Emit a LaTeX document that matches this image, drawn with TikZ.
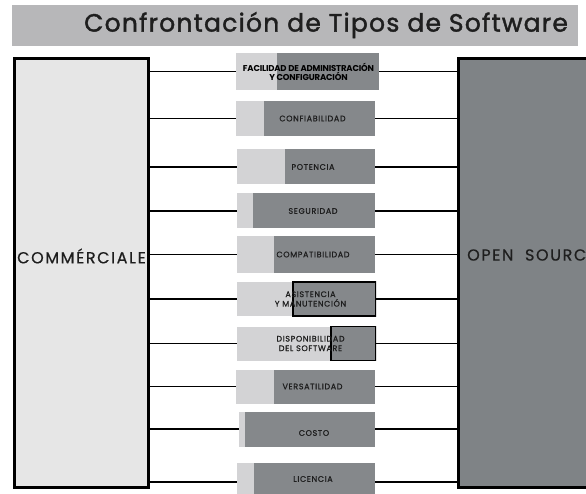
\documentclass[tikz,border=0pt]{standalone}
\usepackage{fontspec}
\setmainfont{Poppins}
\definecolor{titlebg}{HTML}{B7B7B9}
\definecolor{leftbg}{HTML}{E6E6E6}
\definecolor{rightbg}{HTML}{7F8386}
\definecolor{midlight}{HTML}{D3D3D5}
\definecolor{middark}{HTML}{85888B}
\definecolor{txt}{HTML}{1E1E1E}
\tikzset{
  bigbox/.style={draw=black, line width=3pt, rectangle, inner sep=0pt},
  midbox/.style={rectangle, fill=middark, inner sep=0pt, minimum width=139pt, minimum height=35pt,
    path picture={\fill[midlight] (path picture bounding box.south west) rectangle ([xshift=#1]path picture bounding box.north west);}},
  midboxo/.style={rectangle, fill=middark, inner sep=0pt, minimum width=139pt, minimum height=35pt,
    path picture={\fill[midlight] (path picture bounding box.south west) rectangle ([xshift=#1]path picture bounding box.north west);
      \draw[black, line width=1.6pt] ([xshift=#1]path picture bounding box.south west) rectangle (path picture bounding box.north east);}},
  lab/.style={xshift=7pt, inner sep=0pt, font=\fontsize{8}{9.5}\selectfont\addfontfeatures{LetterSpace=8,FakeBold=0.8}, text=txt, align=center},
  conn/.style={draw=black, line width=1.2pt}
}
\begin{document}
\begin{tikzpicture}[x=1pt,y=-1pt]
\useasboundingbox (0,0) rectangle (586,494);
\clip (0,0) rectangle (586,494);
\fill[white] (0,0) rectangle (586,494);
% title
\node[rectangle, fill=titlebg, minimum width=566pt, minimum height=41pt, inner sep=0pt] (title) at (295,25.5) {};
\node[font=\fontsize{25}{28}\selectfont\addfontfeatures{LetterSpace=5,FakeBold=1.6}, text=txt] (titlet) at (326,25) {Confrontación de Tipos de Software};
% side boxes
\node[bigbox, fill=leftbg, minimum width=134pt, minimum height=428pt] (L) at (81,273) {};
\node[font=\fontsize{16}{18}\selectfont\addfontfeatures{LetterSpace=10,FakeBold=0.6}, text=txt, anchor=west, inner sep=0pt] (Lt) at (17,256) {COMMÉRCIALE};
\node[bigbox, fill=rightbg, minimum width=200pt, minimum height=428pt] (R) at (558.5,273) {};
\node[font=\fontsize{16}{18}\selectfont\addfontfeatures{LetterSpace=10,FakeBold=0.6}, text=txt, anchor=west, inner sep=0pt] (Rt) at (467,255) {OPEN\ \ SOURCE};
% middle boxes
\node[midbox=41pt, minimum width=143pt, minimum height=37pt,
  label={[lab, xshift=-6pt, font=\fontsize{8.5}{9}\selectfont\bfseries\addfontfeatures{LetterSpace=-2}, text=black]center:FACILIDAD DE ADMINISTRACIÓN\\Y CONFIGURACIÓN}] (m1) at (307.5,71.5) {};
\node[midbox=28pt, label={[lab]center:CONFIABILIDAD}] (m2) at (305.5,118.5) {};
\node[midbox=48pt, minimum width=138pt, label={[lab]center:POTENCIA}] (m3) at (306,167) {};
\node[midbox=16pt, minimum width=138pt, label={[lab]center:SEGURIDAD}] (m4) at (306,211) {};
\node[midbox=37pt, minimum width=138pt, minimum height=37pt, label={[lab]center:COMPATIBILIDAD}] (m5) at (306,254.5) {};
\node[midboxo=56pt, minimum height=34pt, label={[lab, xshift=-3pt]center:ASISTENCIA\\Y MANUTENCIÓN}] (m6) at (306.5,299) {};
\node[midboxo=94pt, minimum height=34pt, label={[lab, xshift=-3pt]center:DISPONIBILIDAD\\DEL SOFTWARE}] (m7) at (306.5,343.5) {};
\node[midbox=38pt, minimum height=34pt, label={[lab]center:VERSATILIDAD}] (m8) at (305.5,386.5) {};
\node[midbox=6pt, minimum width=136pt, label={[lab, yshift=-4pt]center:COSTO}] (m9) at (307,429) {};
\node[midbox=17pt, minimum width=138pt, minimum height=38pt, label={[lab, yshift=3pt]center:LICENCIA}] (m10) at (306,482) {};
% connectors
\foreach \i in {1,...,10}{
  \draw[conn] (L.east |- m\i.west) -- (m\i.west);
  \draw[conn] (m\i.east) -- (R.west |- m\i.east);
}
\end{tikzpicture}
\end{document}
